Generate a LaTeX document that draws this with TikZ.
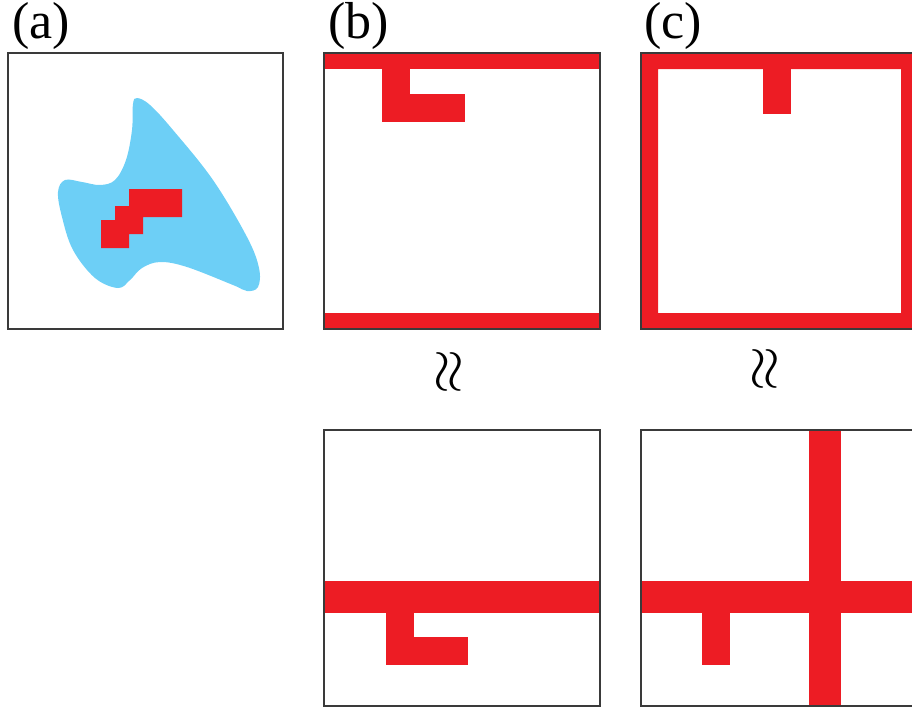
\documentclass[tikz,border=0pt]{standalone}
\usepackage{fontspec}
\setmainfont{Liberation Serif}
\usepackage{graphicx}
\definecolor{cellred}{HTML}{ED1C24}
\definecolor{blobblue}{HTML}{6DCFF6}
\definecolor{framegray}{HTML}{3A3A3A}

\tikzset{
  frame/.style={draw=framegray,line width=1.4pt},
  lbl/.style={font=\fontsize{52}{52}\selectfont,inner sep=0pt,anchor=base west,
    text height=35pt,text depth=9pt},
  wave/.style={inner sep=0pt}
}
\newcommand{\eqmark}{\rotatebox{90}{\scalebox{5.8}{$\approx$}}}

\begin{document}
\begin{tikzpicture}[x=1pt,y=-1pt,line join=miter]
  \useasboundingbox (0,0) rectangle (912,710);
  \clip (0,0) rectangle (912,710);

  % labels
  \node[lbl] (lbla) at (12,38) {(a)};
  \node[lbl] (lblb) at (328,38) {(b)};
  \node[lbl] (lblc) at (644,38) {(c)};

  % panel (a)
  \fill[blobblue] plot[smooth cycle,tension=0.6] coordinates {
    (137,98) (150,105) (173,130) (213,180) (247,237) (259,268) (258,287)
    (247,291) (233,285) (187,267) (160,262) (142,268) (130,280) (118,288)
    (95,278) (73,250) (62,217) (58,192) (65,180) (82,182) (100,185)
    (115,180) (126,160) (132,130) (133,104)};
  \fill[cellred] (129,189) -- (182,189) -- (182,217) -- (143,217) -- (143,234)
    -- (129,234) -- (129,248) -- (101,248) -- (101,220) -- (115,220)
    -- (115,206) -- (129,206) -- cycle;
  \draw[frame] (8,53) rectangle (283,329);

  % panel (b), top
  \fill[cellred] (324,53) rectangle (600,69);
  \fill[cellred] (324,313) rectangle (600,329);
  \fill[cellred] (382,53) rectangle (410,122);
  \fill[cellred] (382,94) rectangle (465,122);
  \draw[frame] (324,53) rectangle (600,329);

  % panel (c), top
  \fill[cellred,even odd rule] (641,53) rectangle (917,329) (658,69) rectangle (901,313);
  \fill[cellred] (763,53) rectangle (791,114);
  \draw[frame] (641,53) rectangle (917,329);

  % equivalence marks
  \node[wave] (wrb) at (450,372) {\eqmark};
  \node[wave] (wrc) at (766,369) {\eqmark};

  % panel (b), bottom
  \fill[cellred] (324,581) rectangle (600,613);
  \fill[cellred] (386,613) rectangle (414,665);
  \fill[cellred] (386,637) rectangle (468,665);
  \draw[frame] (324,430) rectangle (600,706);

  % panel (c), bottom
  \fill[cellred] (641,581) rectangle (917,613);
  \fill[cellred] (809,430) rectangle (841,706);
  \fill[cellred] (702,613) rectangle (730,665);
  \draw[frame] (641,430) rectangle (917,706);
\end{tikzpicture}
\end{document}
